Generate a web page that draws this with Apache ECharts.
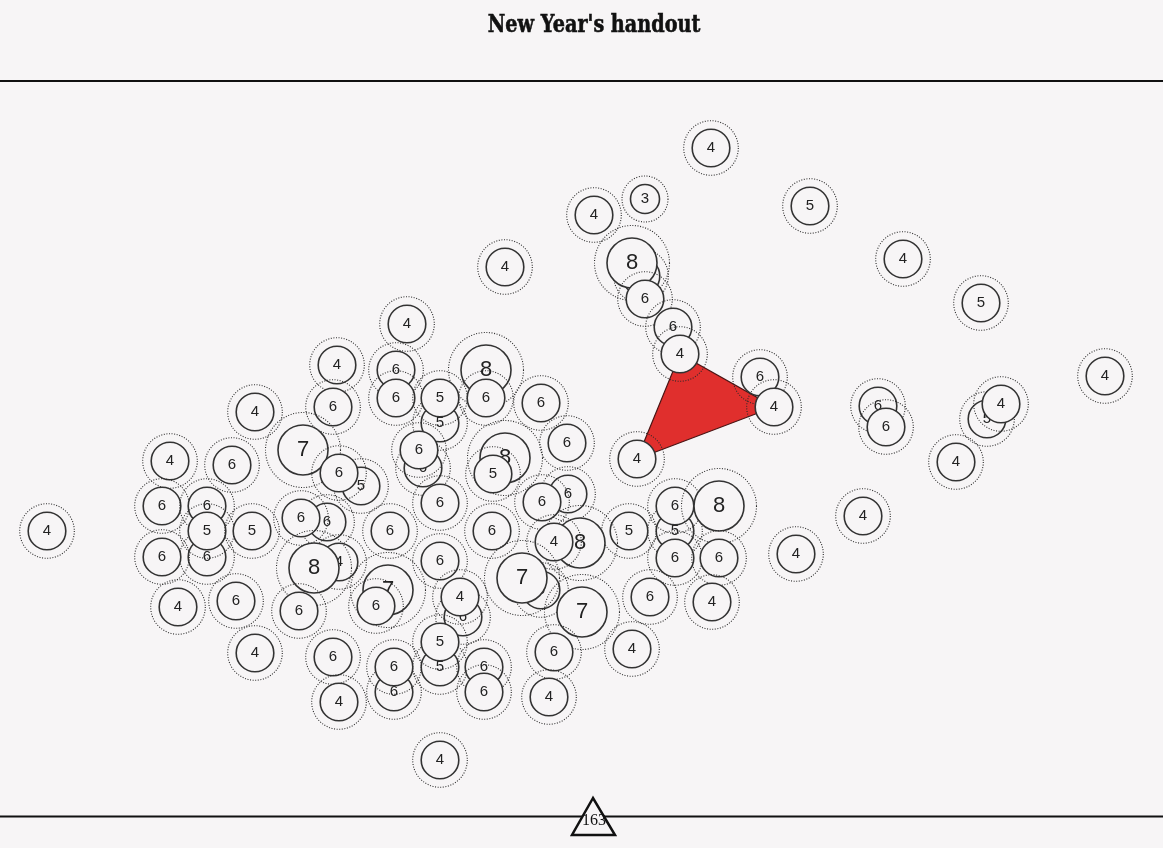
<!DOCTYPE html>
<html>
<head>
<meta charset="utf-8">
<title>New Year's handout</title>
<script src="https://cdn.jsdelivr.net/npm/echarts@6/dist/echarts.min.js"></script>
<style>
  html, body { margin: 0; padding: 0; background: #f7f5f6; }
  #chart { width: 1163px; height: 848px; }
</style>
</head>
<body>
<div id="chart"></div>
<script>
// node positions (plot units) and the number in each node, in drawing order
var nodeX = [711,645,594,810,505,641,632,645,903,981,
             407,673,680,337,396,486,760,1105,255,333,
             396,440,440,486,541,774,878,886,987,1001,
             567,303,423,419,505,493,637,956,170,232,
             361,339,162,207,207,207,252,327,301,390,
             440,568,542,675,675,719,863,47,492,629,
             580,554,796,162,339,314,440,675,719,388,
             376,541,522,582,463,460,178,236,299,650,
             712,440,440,255,333,554,632,394,394,484,
             484,339,549,440];
var nodeY = [148,199,215,206,267,276,263,299,259,303,
             324,327,354,365,370,370,377,376,412,407,
             398,423,398,398,403,407,406,427,419,404,
             443,450,468,450,458,474,459,462,461,465,
             486,473,506,506,557,531,531,522,518,531,
             503,494,502,531,506,506,516,531,531,531,
             543,542,554,557,562,568,561,558,558,590,
             606,590,578,612,617,597,607,601,611,597,
             602,667,642,653,657,652,649,692,667,667,
             692,702,697,760];
var nodeVal = [4,3,4,5,4,6,8,6,4,5,
               4,6,4,4,6,8,6,4,4,6,
               6,5,5,6,6,4,6,6,5,4,
               6,7,6,6,8,5,4,4,4,6,
               5,6,6,6,6,5,5,6,6,6,
               6,6,6,5,6,8,4,4,6,5,
               8,4,4,6,4,8,6,6,6,7,
               6,6,7,7,6,4,4,6,6,6,
               4,5,5,4,6,6,4,6,6,6,
               6,4,4,4];

// the highlighted triangle between three nodes
var triX = [680, 774, 637];
var triY = [354, 407, 459];

var chartTitle = "New Year's handout";
var countLabel = '163';

var nodeData = [];
for (var i = 0; i < nodeX.length; i++) {
  nodeData.push([nodeX[i], nodeY[i], nodeVal[i]]);
}

var bg = '#f7f5f6';
var myChart = echarts.init(document.getElementById('chart'));

var option = {
  backgroundColor: bg,
  animation: false,
  grid: { left: 0, right: 0, top: 0, bottom: 0 },
  xAxis: { type: 'value', min: 0, max: 1163, show: false },
  yAxis: { type: 'value', min: 0, max: 848, inverse: true, show: false },
  graphic: [
    // title, squeezed to look like a heavy condensed slab face
    { type: 'text', x: 594, y: 26, scaleX: 0.8, z: 12,
      style: { text: chartTitle, align: 'center', verticalAlign: 'middle',
               font: 'bold 24px "DejaVu Serif", serif', fill: '#111',
               stroke: '#111', lineWidth: 0.6 } },
    { type: 'line', shape: { x1: 0, y1: 81, x2: 1163, y2: 81 }, style: { stroke: '#111', lineWidth: 2 }, z: 10 },
    { type: 'line', shape: { x1: 0, y1: 816.5, x2: 1163, y2: 816.5 }, style: { stroke: '#111', lineWidth: 2 }, z: 10 },
    { type: 'polygon', shape: { points: [[593, 798], [572, 835], [615, 835]] },
      style: { fill: bg, stroke: '#111', lineWidth: 2.5 }, z: 11 },
    { type: 'text', x: 594, y: 821, z: 12,
      style: { text: countLabel, align: 'center', verticalAlign: 'middle',
               font: '16px "Liberation Serif", serif', fill: '#111' } }
  ],
  series: [
    {
      type: 'custom',
      z: 1,
      silent: true,
      data: [[0]],
      renderItem: function (params, api) {
        var pts = [];
        for (var k = 0; k < triX.length; k++) {
          pts.push(api.coord([triX[k], triY[k]]));
        }
        return {
          type: 'polygon',
          shape: { points: pts },
          style: { fill: '#e02f2d', stroke: '#4a1414', lineWidth: 1.2 }
        };
      }
    },
    {
      type: 'custom',
      z: 2,
      silent: true,
      data: nodeData,
      renderItem: function (params, api) {
        var p = api.coord([api.value(0), api.value(1)]);
        var v = api.value(2);
        var r = v >= 7 ? 25 : (v <= 3 ? 14.5 : 18.8);
        var rr = v >= 7 ? 37.5 : (v <= 3 ? 23 : 27.3);
        var fs = v >= 7 ? 22 : 15;
        return {
          type: 'group',
          children: [
            { type: 'circle', shape: { cx: p[0], cy: p[1], r: rr },
              style: { fill: 'none', stroke: '#2a2a2a', lineWidth: 1.1, lineDash: [1, 1.6] } },
            { type: 'circle', shape: { cx: p[0], cy: p[1], r: r },
              style: { fill: bg, stroke: '#333', lineWidth: 1.6 } },
            { type: 'text',
              style: { text: String(v), x: p[0], y: p[1], align: 'center', verticalAlign: 'middle',
                       font: fs + 'px "Liberation Sans", Arial, sans-serif', fill: '#222' } }
          ]
        };
      }
    }
  ]
};
myChart.setOption(option);
</script>
</body>
</html>
